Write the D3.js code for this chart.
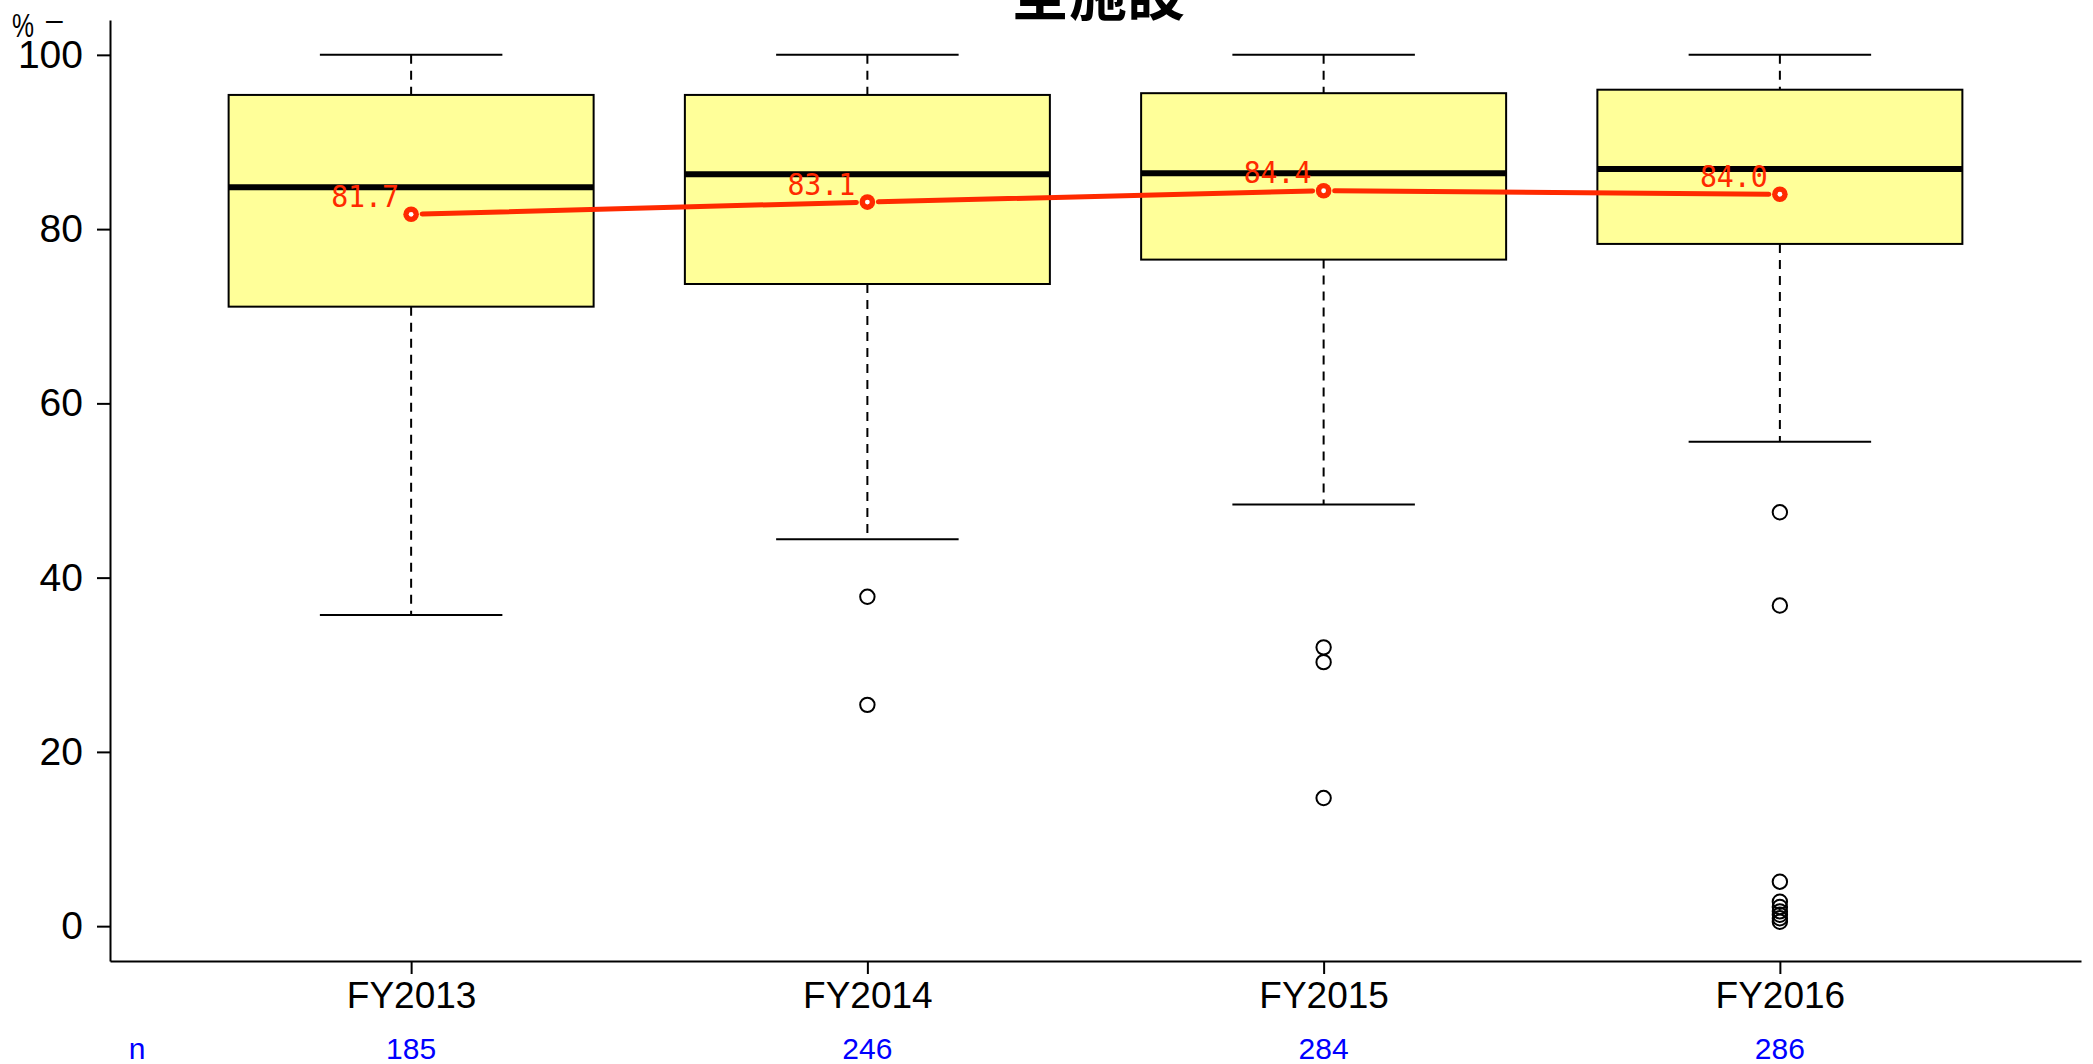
<!DOCTYPE html>
<html><head><meta charset="utf-8">
<script src="https://cdn.jsdelivr.net/npm/d3@7"></script>
<style>html,body{margin:0;padding:0;background:#fff;}svg{display:block;}</style>
</head><body>
<script>
const categories = ["FY2013","FY2014","FY2015","FY2016"];
const whiskerHigh = [100, 100, 100, 100];
const q3 = [95.4, 95.4, 95.6, 96.0];
const medians = [84.8, 86.3, 86.4, 86.9];
const q1 = [71.1, 73.7, 76.5, 78.3];
const whiskerLow = [35.7, 44.4, 48.4, 55.6];
const outliers = [[], [37.8, 25.4], [32.0, 30.3, 14.7], [47.5, 36.8, 5.1, 2.8, 2.2, 1.7, 1.3, 0.9, 0.5]];
const means = [81.7, 83.1, 84.4, 84.0];
const counts = [185, 246, 284, 286];
const yTicks = [0, 20, 40, 60, 80, 100];
const title = "全施設";

const W = 2093, H = 1064;
const svg = d3.select("body").append("svg").attr("width", W).attr("height", H);
const x = d3.scaleLinear().domain([0.34, 4.66]).range([110, 2081]);
const y = d3.scaleLinear().domain([-4, 104]).range([961, 20]);
const idx = categories.map((c,i)=>i+1);

// title
svg.append("text").attr("x", 1098).attr("y", 15).attr("text-anchor","middle")
  .attr("font-family","'Noto Sans CJK JP'").attr("font-weight","bold").attr("font-size",58).text(title);

// unit
svg.append("text").attr("x", 12).attr("y", 37).attr("font-family","'Liberation Sans'").attr("font-size",34)
  .attr("textLength",22).attr("lengthAdjust","spacingAndGlyphs").text("%");
svg.append("text").attr("x", 46).attr("y", 30).attr("font-family","'Liberation Sans'").attr("font-size",30).text("–");

const g = svg.append("g");
const bw = 0.4, cw = 0.2;
idx.forEach((v,i)=>{
  const cx = x(v);
  g.append("line").attr("x1",cx).attr("x2",cx).attr("y1",y(whiskerHigh[i])).attr("y2",y(q3[i]))
    .attr("stroke","#000").attr("stroke-width",2).attr("stroke-dasharray","9,7");
  g.append("line").attr("x1",cx).attr("x2",cx).attr("y1",y(q1[i])).attr("y2",y(whiskerLow[i]))
    .attr("stroke","#000").attr("stroke-width",2).attr("stroke-dasharray","9,7");
  [whiskerHigh[i], whiskerLow[i]].forEach(w=>{
    g.append("line").attr("x1",x(v-cw)).attr("x2",x(v+cw)).attr("y1",y(w)).attr("y2",y(w))
      .attr("stroke","#000").attr("stroke-width",2);
  });
  g.append("rect").attr("x",x(v-bw)).attr("width",x(v+bw)-x(v-bw))
    .attr("y",y(q3[i])).attr("height",y(q1[i])-y(q3[i]))
    .attr("fill","#ffff99").attr("stroke","#000").attr("stroke-width",2);
  g.append("line").attr("x1",x(v-bw)).attr("x2",x(v+bw)).attr("y1",y(medians[i])).attr("y2",y(medians[i]))
    .attr("stroke","#000").attr("stroke-width",6);
  outliers[i].forEach(o=>{
    g.append("circle").attr("cx",cx).attr("cy",y(o)).attr("r",7.2)
      .attr("fill","none").attr("stroke","#000").attr("stroke-width",2);
  });
});

// mean line with gaps
const red = "#ff2a00";
for (let i=0;i<idx.length-1;i++){
  const x1=x(idx[i]), y1=y(means[i]), x2=x(idx[i+1]), y2=y(means[i+1]);
  const L=Math.hypot(x2-x1,y2-y1), gap=11;
  const ux=(x2-x1)/L, uy=(y2-y1)/L;
  svg.append("line").attr("x1",x1+ux*gap).attr("y1",y1+uy*gap).attr("x2",x2-ux*gap).attr("y2",y2-uy*gap)
    .attr("stroke",red).attr("stroke-width",5).attr("stroke-linecap","round");
}
idx.forEach((v,i)=>{
  svg.append("circle").attr("cx",x(v)).attr("cy",y(means[i])).attr("r",7.8).attr("fill",red);
  svg.append("circle").attr("cx",x(v)).attr("cy",y(means[i])).attr("r",2.4).attr("fill","#fff");
  svg.append("text").attr("x",x(v)-80).attr("y",y(means[i])-7.5)
    .attr("font-family","'DejaVu Sans Mono'").attr("font-size",31).attr("fill",red)
    .attr("textLength",68).attr("lengthAdjust","spacingAndGlyphs").text(means[i].toFixed(1));
});

// axes
const yAxis = d3.axisLeft(y).tickValues(yTicks).tickSize(13).tickSizeOuter(0).tickPadding(14);
const ya = svg.append("g").attr("transform","translate(110,0)").call(yAxis);
ya.selectAll("path,line").attr("stroke","#000").attr("stroke-width",2);
ya.selectAll("text").attr("font-family","'Liberation Sans'").attr("font-size",39).attr("fill","#000");

const xAxis = d3.axisBottom(x).tickValues(idx).tickFormat((d,i)=>categories[i]).tickSize(13).tickSizeOuter(0).tickPadding(8);
const xa = svg.append("g").attr("transform","translate(0,961)").call(xAxis);
xa.selectAll("path,line").attr("stroke","#000").attr("stroke-width",2);
xa.selectAll("text").attr("font-family","'Liberation Sans'").attr("font-size",37).attr("fill","#000");

// n counts
svg.append("text").attr("x",137).attr("y",1059).attr("text-anchor","middle")
  .attr("font-family","'Liberation Sans'").attr("font-size",30).attr("fill","#0000ff").text("n");
idx.forEach((v,i)=>{
  svg.append("text").attr("x",x(v)).attr("y",1059).attr("text-anchor","middle")
    .attr("font-family","'Liberation Sans'").attr("font-size",30).attr("fill","#0000ff").text(counts[i]);
});
</script>
</body></html>
